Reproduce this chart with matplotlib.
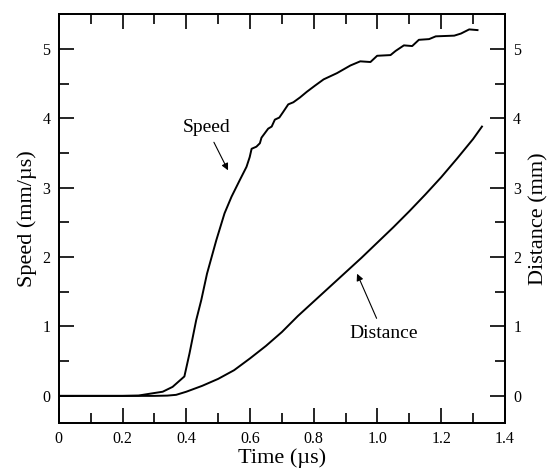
import matplotlib
matplotlib.use("Agg")
import matplotlib.pyplot as plt
from matplotlib.ticker import MultipleLocator

# speed curve (mm/us) vs time (us)
speed_t = [0.0, 0.10, 0.20, 0.25, 0.284, 0.326, 0.357, 0.394, 0.41, 0.431, 0.447,
           0.465, 0.494, 0.52, 0.542, 0.568, 0.589, 0.599, 0.605, 0.62, 0.631,
           0.636, 0.657, 0.668, 0.678, 0.692, 0.704, 0.72, 0.736, 0.757, 0.778,
           0.804, 0.831, 0.873, 0.915, 0.946, 0.978, 0.999, 1.041, 1.057, 1.083,
           1.109, 1.13, 1.162, 1.183, 1.241, 1.262, 1.288, 1.314]
speed_v = [0.0, 0.0, 0.0, 0.005, 0.03, 0.06, 0.13, 0.28, 0.61, 1.09, 1.38,
           1.76, 2.24, 2.63, 2.87, 3.11, 3.30, 3.44, 3.56, 3.59, 3.64,
           3.72, 3.85, 3.88, 3.98, 4.01, 4.09, 4.20, 4.23, 4.30, 4.38,
           4.47, 4.56, 4.65, 4.76, 4.82, 4.81, 4.90, 4.91, 4.97, 5.05,
           5.04, 5.13, 5.14, 5.18, 5.19, 5.22, 5.28, 5.27]

# distance curve (mm) vs time (us)
dist_t = [0.0, 0.10, 0.20, 0.30, 0.34, 0.368, 0.40, 0.45, 0.50, 0.55, 0.60,
          0.65, 0.70, 0.75, 0.80, 0.85, 0.90, 0.95, 1.00, 1.05, 1.10,
          1.15, 1.20, 1.25, 1.30, 1.328]
dist_d = [0.0, 0.0, 0.0, 0.0, 0.004, 0.015, 0.06, 0.145, 0.245, 0.37, 0.54,
          0.72, 0.92, 1.15, 1.36, 1.57, 1.78, 1.99, 2.21, 2.43, 2.66,
          2.90, 3.15, 3.42, 3.70, 3.88]

x_ticks = [0, 0.2, 0.4, 0.6, 0.8, 1.0, 1.2, 1.4]
x_labels = ["0", "0.2", "0.4", "0.6", "0.8", "1.0", "1.2", "1.4"]
y_ticks = [0, 1, 2, 3, 4, 5]

plt.rcParams['font.family'] = ['Liberation Serif', 'DejaVu Serif']

fig = plt.figure(figsize=(5.5, 4.71), dpi=100)
ax = fig.add_axes([0.107, 0.102, 0.811, 0.868])
ax2 = ax.twinx()

ax.plot(speed_t, speed_v, color='black', linewidth=1.4)
ax2.plot(dist_t, dist_d, color='black', linewidth=1.4)

ax.set_xlim(0, 1.4)
ax.set_ylim(-0.39, 5.50)
ax2.set_ylim(-0.39, 5.50)

ax.set_xticks(x_ticks)
ax.set_xticklabels(x_labels)
ax.xaxis.set_minor_locator(MultipleLocator(0.1))
ax.set_yticks(y_ticks)
ax.yaxis.set_minor_locator(MultipleLocator(0.5))
ax2.set_yticks(y_ticks)
ax2.yaxis.set_minor_locator(MultipleLocator(0.5))

ax.tick_params(axis='x', which='both', direction='in', top=True, labelsize=11.5)
ax.tick_params(axis='y', which='both', direction='in', labelsize=11.5)
ax2.tick_params(axis='y', which='both', direction='in', labelsize=11.5)
for a in (ax, ax2):
    a.tick_params(which='major', length=11, width=1.2, pad=6)
    a.tick_params(which='minor', length=7, width=1.2)
    for s in a.spines.values():
        s.set_linewidth(1.3)

ax.set_xlabel('Time (\u00b5s)', fontsize=16, labelpad=1)
ax.set_ylabel('Speed (mm/\u00b5s)', fontsize=16, labelpad=4)
ax2.set_ylabel('Distance (mm)', fontsize=16, rotation=90, labelpad=6)

ax.annotate('Speed', xy=(0.531, 3.25), xytext=(0.463, 3.87),
            ha='center', va='center', fontsize=14,
            arrowprops=dict(arrowstyle='-|>', color='black', lw=0.8,
                            shrinkA=3, shrinkB=0, mutation_scale=10))
ax.annotate('Distance', xy=(0.936, 1.76), xytext=(1.018, 0.90),
            ha='center', va='center', fontsize=14,
            arrowprops=dict(arrowstyle='-|>', color='black', lw=0.8,
                            shrinkA=3, shrinkB=0, mutation_scale=10))

fig.savefig('out.png', dpi=100)
